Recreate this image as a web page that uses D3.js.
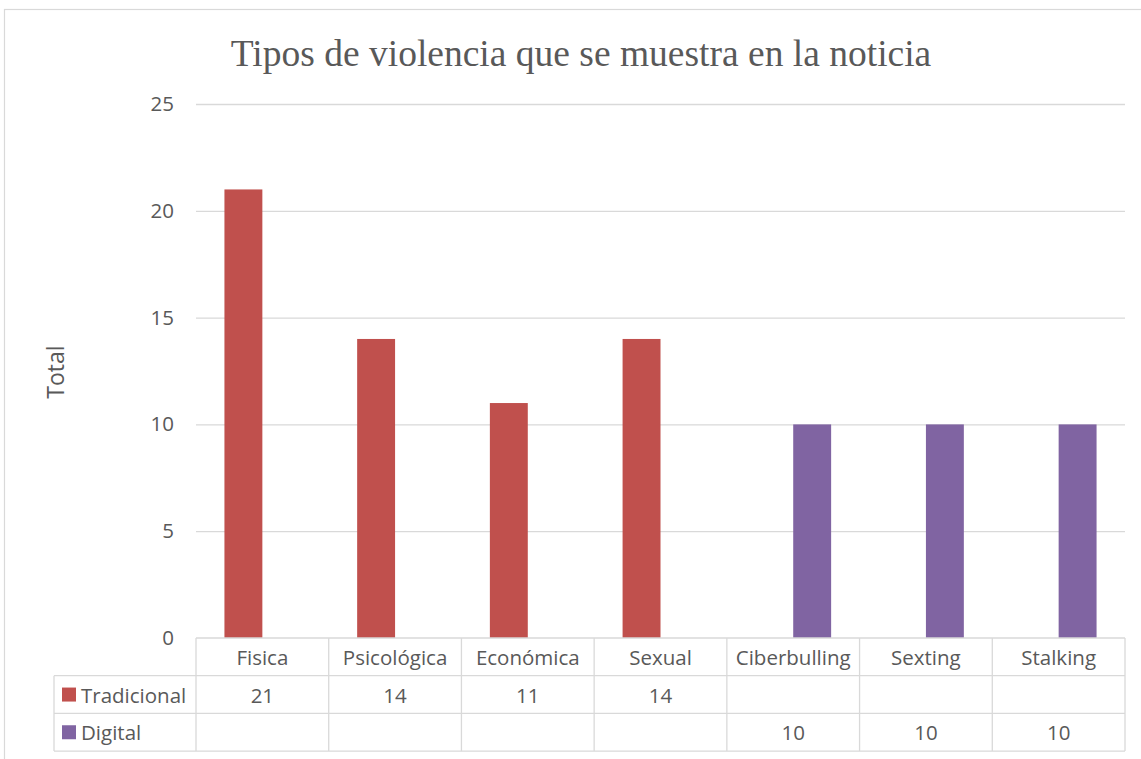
<!DOCTYPE html>
<html>
<head>
<meta charset="utf-8">
<script src="https://cdn.jsdelivr.net/npm/d3@7"></script>
<style>
  body { margin: 0; background: white; }
  svg { display: block; }
</style>
</head>
<body>
<svg id="chart"></svg>
<script>
  // data
  let categories = ["Fisica", "Psicológica", "Económica", "Sexual", "Ciberbulling", "Sexting", "Stalking"]
  let seriesNames = ["Tradicional", "Digital"]
  let tradicional = [21, 14, 11, 14, null, null, null]
  let digital = [null, null, null, null, 10, 10, 10]
  let yTicks = [0, 5, 10, 15, 20, 25]
  let seriesColors = ["#C0504D", "#8064A2"]

  let width = 1141, height = 759
  let margin = { top: 104, left: 196, right: 16, bottom: 121 }
  let gridColor = "#d9d9d9", textColor = "#595959"
  let sansFont = "'Open Sans', sans-serif"
  let labelSize = 20.5

  let svg = d3.select("#chart").attr("width", width).attr("height", height)

  // chart frame
  svg.append("rect")
    .attr("x", 4.5).attr("y", 9.5)
    .attr("width", 1160).attr("height", 800)
    .attr("fill", "none").attr("stroke", gridColor).attr("stroke-width", 1.2)

  svg.append("text")
    .attr("x", 581).attr("y", 66)
    .attr("text-anchor", "middle")
    .attr("font-family", "'Liberation Serif', 'Times New Roman', serif")
    .attr("font-size", 37.5)
    .attr("fill", textColor)
    .text("Tipos de violencia que se muestra en la noticia")

  let x = d3.scaleBand().domain(categories).range([margin.left, width - margin.right]).padding(0)
  let xSeries = d3.scaleBand().domain(seriesNames).range([0, x.bandwidth()])
    .paddingInner(0).paddingOuter(0.75)
  let y = d3.scaleLinear().domain([0, 25]).range([height - margin.bottom, margin.top])

  // gridlines + y labels
  let yAxis = d3.axisLeft(y).tickValues(yTicks).tickSize(-(width - margin.right - margin.left)).tickPadding(22)
  let gy = svg.append("g").attr("transform", `translate(${margin.left},0)`).call(yAxis)
  gy.select(".domain").remove()
  gy.selectAll(".tick line").attr("stroke", gridColor).attr("stroke-width", 1.3)
    .filter(d => d === 0).remove()
  gy.selectAll(".tick text").attr("fill", textColor)
    .attr("font-family", sansFont).attr("font-size", labelSize)

  svg.append("text")
    .attr("transform", `translate(64,372) rotate(-90)`)
    .attr("text-anchor", "middle")
    .attr("font-family", sansFont).attr("font-size", 23)
    .attr("fill", textColor)
    .text("Total")

  // bars
  let series = [tradicional, digital]
  series.forEach((values, si) => {
    svg.append("g").selectAll("rect")
      .data(values.map((v, i) => ({ cat: categories[i], v })).filter(d => d.v != null))
      .enter().append("rect")
      .attr("x", d => x(d.cat) + xSeries(seriesNames[si]))
      .attr("width", xSeries.bandwidth())
      .attr("y", d => y(d.v))
      .attr("height", d => y(0) - y(d.v))
      .attr("fill", seriesColors[si])
  })

  // data table
  let rowH = 37.7
  let tableTop = y(0)
  let legendLeft = 54
  let right = width - margin.right
  let table = svg.append("g")
  let lines = []
  for (let r = 0; r <= 3; r++) {
    let yy = tableTop + r * rowH
    lines.push([r === 0 ? margin.left : legendLeft, yy, right, yy])
  }
  categories.forEach(c => lines.push([x(c), tableTop, x(c), tableTop + 3 * rowH]))
  lines.push([right, tableTop, right, tableTop + 3 * rowH])
  lines.push([legendLeft, tableTop + rowH, legendLeft, tableTop + 3 * rowH])
  table.selectAll("line").data(lines).enter().append("line")
    .attr("x1", d => d[0]).attr("y1", d => d[1]).attr("x2", d => d[2]).attr("y2", d => d[3])
    .attr("stroke", gridColor).attr("stroke-width", 1.3)

  let cellText = (xx, yy, t, anchor) => table.append("text")
    .attr("x", xx).attr("y", yy)
    .attr("text-anchor", anchor || "middle")
    .attr("dominant-baseline", "central")
    .attr("font-family", sansFont).attr("font-size", labelSize)
    .attr("fill", textColor)
    .text(t)

  categories.forEach(c => cellText(x(c) + x.bandwidth() / 2, tableTop + rowH / 2, c))
  series.forEach((values, si) => {
    let cy = tableTop + rowH * (si + 1.5)
    table.append("rect")
      .attr("x", 62).attr("y", cy - 7)
      .attr("width", 14).attr("height", 14)
      .attr("fill", seriesColors[si])
    cellText(81, cy, seriesNames[si], "start")
    values.forEach((v, i) => {
      if (v != null) cellText(x(categories[i]) + x.bandwidth() / 2, cy, v)
    })
  })
</script>
</body>
</html>
